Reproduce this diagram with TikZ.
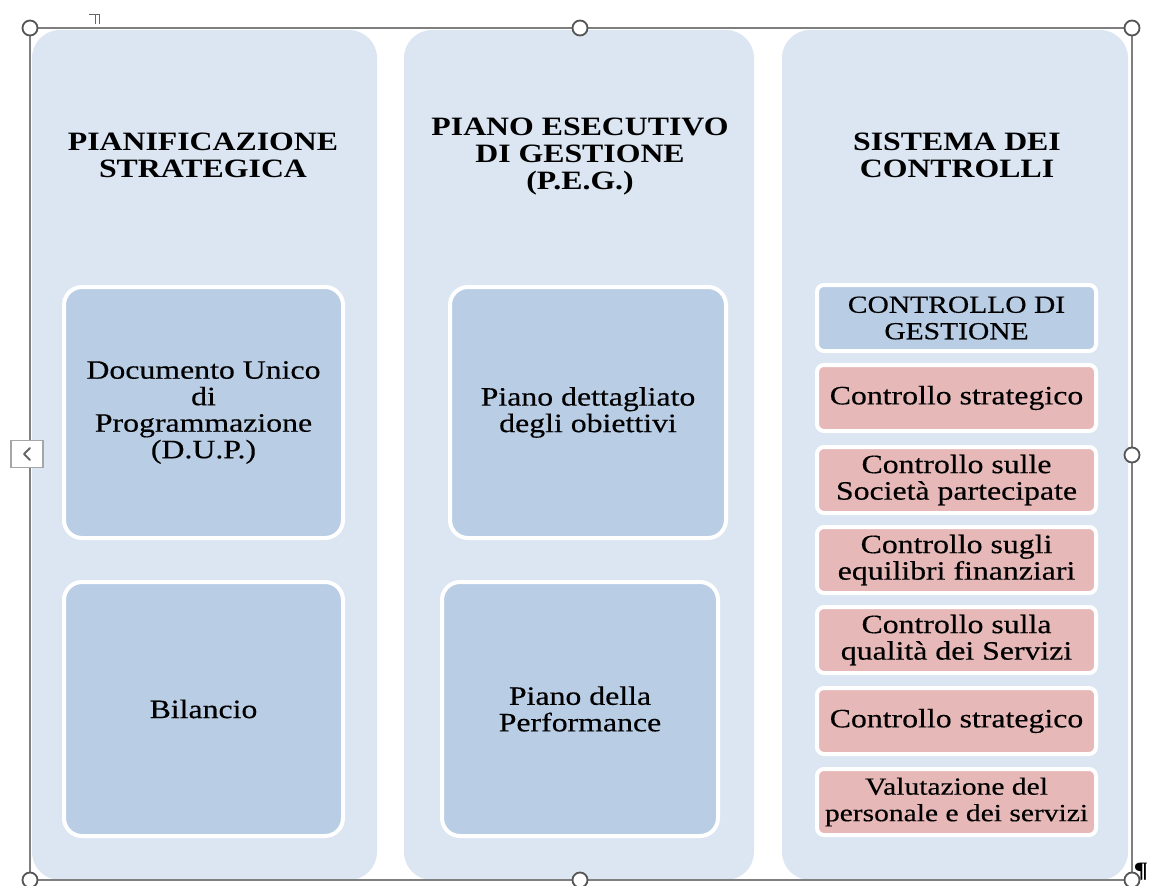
\documentclass[tikz,border=0pt]{standalone}
\usepackage{fontspec}
\setmainfont{Liberation Serif}[FakeStretch=1.2]
\newfontfamily\bodyfam{Liberation Serif}[FakeStretch=1.2, FakeBold=0.4]
\definecolor{colbg}{HTML}{DCE6F2}
\definecolor{boxblue}{HTML}{B9CDE5}
\definecolor{boxpink}{HTML}{E6B9B8}
\definecolor{framegray}{HTML}{7F7F7F}
\definecolor{handlegray}{HTML}{555555}
\newcommand\bodyfnt{\bodyfam\fontsize{26.5}{26.5}\selectfont}
\newcommand\smallbodyfnt{\bodyfam\fontsize{24.6}{26.5}\selectfont}
\newcommand\headfnt{\fontsize{26.5}{27}\selectfont\bfseries}
\begin{document}
\begin{tikzpicture}[x=1pt,y=-1pt,
  colbox/.style={fill=colbg, rounded corners=28pt, inner sep=0pt, minimum height=850pt},
  head/.style={align=center, font=\headfnt, text=black},
  bigbox/.style={draw=white, line width=4pt, fill=boxblue, rounded corners=18pt, align=center, font=\bodyfnt, inner sep=2pt},
  smallbox/.style={draw=white, line width=4pt, fill=boxpink, rounded corners=7pt, align=center, font=\bodyfnt, inner sep=1pt, minimum width=279pt, minimum height=66pt},
  handle/.style={circle, draw=handlegray, fill=white, line width=1.8pt, minimum size=15pt, inner sep=0pt}
]
\useasboundingbox (0,0) rectangle (1149,886);
\fill[white] (0,0) rectangle (1149,886);

% columns
\node[colbox, minimum width=345pt] (c1) at (204.5,455) {};
\node[colbox, minimum width=350pt] (c2) at (579,455) {};
\node[colbox, minimum width=346pt] (c3) at (955,455) {};

% headers
\node[head] (h1) at (203,155) {PIANIFICAZIONE\\STRATEGICA};
\node[head] (h2) at (580,157) {PIANO ESECUTIVO\\DI GESTIONE\\(P.E.G.)};
\node[head] (h3) at (957,155) {SISTEMA DEI\\CONTROLLI};

% column 1
\node[bigbox, minimum width=279pt, minimum height=251pt] (dup) at (203.5,412.5) {Documento Unico\\di\\Programmazione\\(D.U.P.)};
\node[bigbox, minimum width=279pt, minimum height=254pt] (bil) at (203.5,709) {Bilancio};

% column 2
\node[bigbox, minimum width=276pt, minimum height=251pt] (pdo) at (588,412.5) {Piano dettagliato\\degli obiettivi};
\node[bigbox, minimum width=276pt, minimum height=254pt] (perf) at (580,709) {Piano della\\Performance};

% column 3
\node[smallbox, fill=boxblue, font=\smallbodyfnt] (cg) at (956.5,318) {CONTROLLO DI\\GESTIONE};
\node[smallbox] (cs1) at (956.5,398) {Controllo strategico};
\node[smallbox] (csp) at (956.5,480) {Controllo sulle\\Società partecipate};
\node[smallbox] (cef) at (956.5,560) {Controllo sugli\\equilibri finanziari};
\node[smallbox] (cqs) at (956.5,640) {Controllo sulla\\qualità dei Servizi};
\node[smallbox] (cs2) at (956.5,721) {Controllo strategico};
\node[smallbox, font=\smallbodyfnt] (vps) at (956.5,802) {Valutazione del\\personale e dei servizi};

% selection frame
\draw[framegray, line width=1.6pt] (30,28) rectangle (1132,880);
\node[handle] (hTL) at (30,28) {};
\node[handle] (hTM) at (580,28) {};
\node[handle] (hTR) at (1132,28) {};
\node[handle] (hMR) at (1132,455) {};
\node[handle] (hBL) at (30,880) {};
\node[handle] (hBM) at (580,880) {};
\node[handle] (hBR) at (1132,880) {};

% left tab
\node[draw=black!35, fill=white, line width=1.2pt, minimum width=32pt, minimum height=27pt, inner sep=0pt] (tab) at (27,454) {};
\draw[black!60, line width=1.8pt, line cap=round, line join=round]
  ([shift={(3,-6)}]tab.center) -- ([shift={(-3,0)}]tab.center) -- ([shift={(3,6)}]tab.center);

% anchor mark at top
\draw[black!60, line width=0.9pt] (89,14) -- (100,14) (95.5,14) -- (95.5,24) (99,14) -- (99,24);

% pilcrow
\node[font=\fontsize{22}{22}\selectfont\bfseries, inner sep=0pt] (pil) at (1141,872) {¶};
\end{tikzpicture}
\end{document}
